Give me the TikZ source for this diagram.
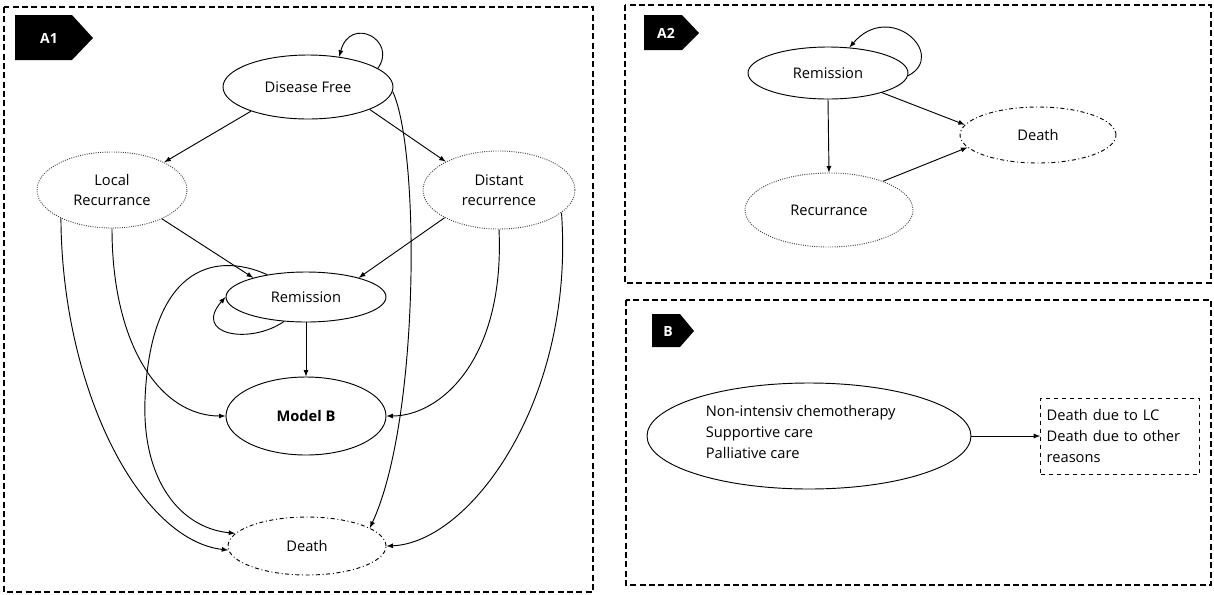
\documentclass[tikz,border=0pt]{standalone}
\usepackage{fontspec}
\setmainfont{Open Sans}
\usetikzlibrary{shapes.geometric,arrows}

\begin{document}
\begin{tikzpicture}[x=0.75pt,y=-0.75pt,line width=0.7pt,>=latex,
  every node/.style={font=\fontsize{11}{15}\selectfont},
  state/.style={ellipse,draw,inner sep=0pt,align=center},
  dotstate/.style={state,densely dotted,draw=black!75},
  deadstate/.style={state,dash dot},
  frame/.style={line width=1.2pt,dash pattern=on 4.5pt off 2.5pt},
  tagtext/.style={text=white,font=\fontsize{10.5}{12}\selectfont\bfseries}]
\useasboundingbox (0,0) rectangle (1214,594);

% frames
\draw[frame] (4,7) rectangle (593,592);
\draw[frame] (625,5) rectangle (1211,283);
\draw[frame] (626,300) rectangle (1211,585);

% tags
\fill (15,15)--(72,15)--(93,38)--(72,60)--(15,60)--cycle;
\node[tagtext] (tA) at (49,38) {A1};
\fill (644,15)--(682,15)--(699,33)--(682,50)--(644,50)--cycle;
\node[tagtext] (tB) at (666,33) {A2};
\fill (652,314)--(680,314)--(694,331)--(680,347)--(652,347)--cycle;
\node[tagtext] (tC) at (668,331) {B};

% A1
\node[state,minimum width=127.5pt,minimum height=48pt] (df) at (308,87) {Disease Free};
\node[dotstate,minimum width=112.5pt,minimum height=57pt] (lr) at (112,190) {Local\\Recurrance};
\node[dotstate,minimum width=114pt,minimum height=58.5pt] (dr) at (499,190) {Distant\\recurrence};
\node[state,minimum width=120pt,minimum height=37.5pt] (rem) at (306,297) {Remission};
\node[state,minimum width=120pt,minimum height=58.5pt] (mb) at (306,416) {\bfseries Model B};
\node[deadstate,minimum width=118.5pt,minimum height=43.5pt] (dA) at (307,546) {Death};

\draw[->] (df.15) .. controls (398,40) and (350,15) .. (df.44);
\draw[->] (df.203) -- (lr.28);
\draw[->] (df.340) -- (dr.152);
\draw[->] (df.357) .. controls (420,150) and (420,420) .. (dA.16);
\draw[->] (lr.330) -- (rem.160);
\draw[->] (dr.207) -- (rem.20);
\draw[->] (rem.south) -- (mb.north);
\draw[->] (lr.south) .. controls (112,345) and (160,416) .. (mb.west);
\draw[->] (lr.209) .. controls (62,390) and (140,540) .. (dA.183);
\draw[->] (rem.150) .. controls (212,250) and (150,270) .. (145,400)
  .. controls (142,480) and (180,528) .. (dA.170);
\draw[->] (rem.228) .. controls (250,345) and (192,335) .. (rem.west);
\draw[->] (dr.south) .. controls (505,360) and (440,416) .. (mb.east);
\draw[->] (dr.340) .. controls (575,400) and (470,543) .. (dA.east);

% A2
\node[state,minimum width=120pt,minimum height=39pt] (rem2) at (828,73) {Remission};
\node[dotstate,minimum width=126pt,minimum height=55.5pt] (rec2) at (829,210) {Recurrance};
\node[deadstate,minimum width=117pt,minimum height=42pt] (d2) at (1038,135) {Death};

\draw[->] (rem2.358) .. controls (948,55) and (890,0) .. (rem2.50);
\draw[->] (rem2.south) -- (rec2.north);
\draw[->] (rem2.340) -- (d2.172);
\draw[->] (rec2.28) -- (d2.190);

% B
\node[state,minimum width=243pt,minimum height=79.5pt] (care) at (809,436) {};
\node[anchor=west,align=left,font=\fontsize{11}{15.5}\selectfont] (caretxt) at (701,432)
  {Non-intensiv chemotherapy\\Supportive care\\Palliative care};
\node[draw,dashed,minimum width=119pt,minimum height=57pt,text width=110pt,align=left,
  inner sep=4pt,font=\fontsize{11}{15.5}\selectfont] (dth) at (1120,436)
  {Death due to LC\\Death due to other\\reasons};
\draw[->] (care.east) -- (dth.west);
\end{tikzpicture}
\end{document}
